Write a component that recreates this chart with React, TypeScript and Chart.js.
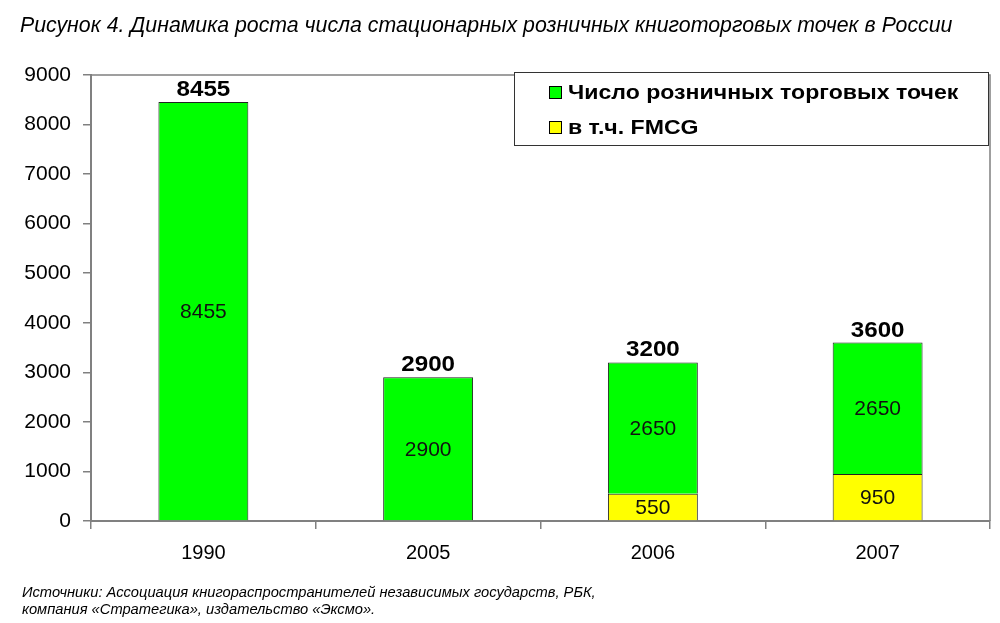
import { useEffect, useRef } from "react"
import { Chart, registerables } from "chart.js"

Chart.register(...registerables)

const years = ["1990", "2005", "2006", "2007"]
const allPoints = [8455, 2900, 2650, 2650]
const fmcgPoints = [0, 0, 550, 950]
const totals = [8455, 2900, 3200, 3600]
const yTicks = [0, 1000, 2000, 3000, 4000, 5000, 6000, 7000, 8000, 9000]

const FONT = "'Liberation Sans', Arial, sans-serif"
const GREEN = "#00ff00"
const YELLOW = "#ffff00"

const legendItems = [
	{ label: "Число розничных торговых точек", color: GREEN },
	{ label: "в т.ч. FMCG", color: YELLOW },
]

// text a little wider than the font, like the original picture
function wideText(c: CanvasRenderingContext2D, s: string, x: number, y: number, k: number) {
	c.save()
	c.translate(x, y)
	c.scale(k, 1)
	c.fillText(s, 0, 0)
	c.restore()
}

export default function App() {
	const chartRef = useRef<HTMLCanvasElement>(null)
	const chartInstance = useRef<Chart | null>(null)

	useEffect(() => {
		document.body.style.margin = "0"
		if (!chartRef.current) return
		if (chartInstance.current) chartInstance.current.destroy()

		const ctx = chartRef.current.getContext("2d")
		if (!ctx) return

		// labels inside bars, totals on top, frame and legend box
		const extras = {
			id: "extras",
			afterDatasetsDraw(chart: Chart) {
				const c = chart.ctx
				const area = chart.chartArea
				c.save()

				// top and right frame of the plot area
				c.strokeStyle = "#808080"
				c.lineWidth = 1.5
				c.beginPath()
				c.moveTo(area.left, area.top)
				c.lineTo(area.right, area.top)
				c.lineTo(area.right, area.bottom)
				c.stroke()

				c.textAlign = "center"
				c.textBaseline = "middle"
				c.fillStyle = "#111"
				c.font = `21px ${FONT}`
				chart.data.datasets.forEach((ds, di) => {
					const meta = chart.getDatasetMeta(di)
					meta.data.forEach((bar: any, i) => {
						const v = ds.data[i] as number
						if (!v) return
						const { x, y, base } = bar.getProps(["x", "y", "base"], true)
						c.fillText(String(v), x, (y + base) / 2 + 1)
					})
				})

				const yScale = chart.scales.y
				const xScale = chart.scales.x
				c.font = `bold 22px ${FONT}`
				c.fillStyle = "#000"
				totals.forEach((t, i) => {
					const x = xScale.getPixelForValue(i)
					const y = yScale.getPixelForValue(t)
					wideText(c, String(t), x, y - 12, 1.1)
				})

				// legend
				const lx = 514
				const ly = 72
				const lw = 474
				const lh = 73
				c.fillStyle = "#fff"
				c.fillRect(lx, ly, lw, lh)
				c.strokeStyle = "#333"
				c.lineWidth = 1
				c.strokeRect(lx + 0.5, ly + 0.5, lw, lh)
				c.textAlign = "left"
				c.font = `bold 21px ${FONT}`
				legendItems.forEach((it, i) => {
					const cy = 92 + i * 35
					c.fillStyle = it.color
					c.fillRect(549, cy - 6, 12, 12)
					c.strokeStyle = "#000"
					c.strokeRect(549.5, cy - 5.5, 12, 12)
					c.fillStyle = "#000"
					wideText(c, it.label, 568, cy + 1, 1.1)
				})
				c.restore()
			},
		}

		chartInstance.current = new Chart(ctx, {
			type: "bar",
			data: {
				labels: years,
				datasets: [
					{
						label: "в т.ч. FMCG",
						data: fmcgPoints,
						backgroundColor: YELLOW,
						borderColor: "#222",
						borderWidth: 1,
						barPercentage: 0.4,
						categoryPercentage: 1,
					},
					{
						label: "Число розничных торговых точек",
						data: allPoints,
						backgroundColor: GREEN,
						borderColor: "#222",
						borderWidth: 1,
						barPercentage: 0.4,
						categoryPercentage: 1,
					},
				],
			},
			options: {
				responsive: false,
				animation: false,
				layout: { padding: { top: 75, right: 10, left: 0, bottom: 0 } },
				plugins: {
					legend: { display: false },
					tooltip: { enabled: false },
				},
				scales: {
					x: {
						stacked: true,
						afterFit: (scale: any) => {
							scale.height = 102
						},
						grid: {
							offset: true,
							drawOnChartArea: false,
							tickLength: 8,
							color: "#808080",
							lineWidth: 1.5,
						},
						border: { color: "#808080", width: 2 },
						ticks: {
							color: "#000",
							padding: 12,
							font: { family: FONT, size: 20 },
						},
					},
					y: {
						stacked: true,
						min: 0,
						max: 9000,
						afterFit: (scale: any) => {
							scale.width = 91
						},
						afterBuildTicks: (scale: any) => {
							scale.ticks = yTicks.map((v) => ({ value: v }))
						},
						grid: {
							drawOnChartArea: false,
							tickLength: 8,
							color: "#808080",
							lineWidth: 1.5,
						},
						border: { color: "#808080", width: 2 },
						ticks: {
							color: "#000",
							padding: 12,
							font: { family: FONT, size: 21 },
							callback: (v: any) => String(v),
						},
					},
				},
			},
			plugins: [extras],
		})

		return () => {
			if (chartInstance.current) {
				chartInstance.current.destroy()
				chartInstance.current = null
			}
		}
	}, [])

	return (
		<div style={{ position: "relative", width: 1000, height: 623, background: "#fff", fontFamily: FONT }}>
			<canvas ref={chartRef} width={1000} height={623} style={{ position: "absolute", left: 0, top: 0 }}></canvas>
			<div style={{ position: "absolute", left: 20, top: 13, fontSize: 21.3, fontStyle: "italic", whiteSpace: "nowrap" }}>
				Рисунок 4. Динамика роста числа стационарных розничных книготорговых точек в России
			</div>
			<div style={{ position: "absolute", left: 22, top: 584, fontSize: 14.7, fontStyle: "italic", lineHeight: "17px", whiteSpace: "nowrap" }}>
				Источники: Ассоциация книгораспространителей независимых государств, РБК,
				<br />
				компания «Стратегика», издательство «Эксмо».
			</div>
		</div>
	)
}
